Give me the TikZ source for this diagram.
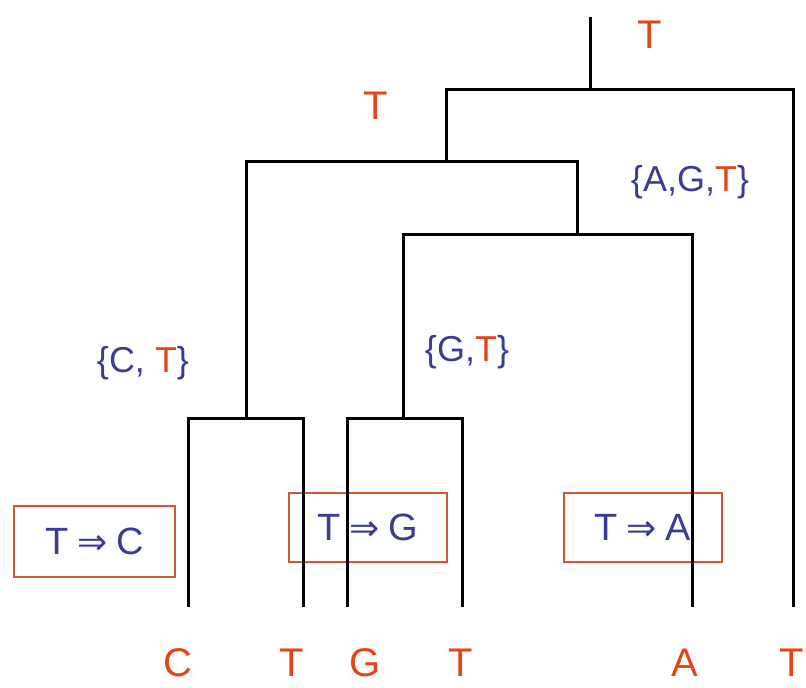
\documentclass[tikz,border=0pt]{standalone}
\usepackage{fontspec}
\setmainfont{Liberation Sans}
\newfontfamily\arrowfont{DejaVu Sans}
\definecolor{tblue}{RGB}{60,60,150}
\definecolor{tred}{RGB}{228,68,22}
\definecolor{tbox}{RGB}{205,90,50}
\newcommand{\impl}{{\arrowfont\fontsize{36}{40}\selectfont ⇒}}
\begin{document}
\begin{tikzpicture}[x=1pt,y=-1pt,
  branch/.style={line width=3pt,black},
  base/.style={font=\fontsize{40}{44}\selectfont,tred,inner sep=0pt},
  setlab/.style={font=\fontsize{36}{40}\selectfont,tblue,inner sep=0pt},
  mutbox/.style={draw=tbox,line width=2pt,font=\fontsize{38}{42}\selectfont,text=tblue,inner sep=0pt},
]
\useasboundingbox (0,0) rectangle (806,688);
% tree points
\coordinate (root) at (590,17);
\coordinate (n0) at (590,89);
\coordinate (n1) at (446,161);
\coordinate (n2) at (246,418);
\coordinate (n3) at (577,234);
\coordinate (n4) at (403,418);
\coordinate (lC) at (188,607);
\coordinate (lT1) at (303,607);
\coordinate (lG) at (347,607);
\coordinate (lT2) at (462,607);
\coordinate (lA) at (692,607);
\coordinate (lT3) at (793,607);
% mutation boxes (drawn first so branches overlay)
\node[mutbox,minimum width=161pt,minimum height=71pt] (bC) at (94.5,541.5) {T\hspace{9pt}\impl\hspace{9pt}C};
\node[mutbox,minimum width=158pt,minimum height=69pt] (bG) at (368,527) {T\hspace{9pt}\impl\hspace{9pt}G};
\node[mutbox,minimum width=158pt,minimum height=69pt] (bA) at (642.5,527) {T\hspace{9pt}\impl\hspace{9pt}A};
% branches
\draw[branch] (root) -- (n0);
\draw[branch] (n1) |- (n0) -| (lT3);
\draw[branch] (n2) |- (n1) -| (n3);
\draw[branch] (lC) |- (n2) -| (lT1);
\draw[branch] (n4) |- (n3) -| (lA);
\draw[branch] (lG) |- (n4) -| (lT2);
% leaf labels
\node[base] (tC) at (178,663) {C};
\node[base] (tT1) at (292,663) {T};
\node[base] (tG) at (365,663) {G};
\node[base] (tT2) at (461,663) {T};
\node[base] (tA) at (685,663) {A};
\node[base] (tT3) at (792,663) {T};
% internal labels
\node[base] (rootlab) at (650,35) {T};
\node[base] (n1lab) at (376,106) {T};
\node[setlab] (s3) at (690,182) {\{A,G,\textcolor{tred}{T}\}};
\node[setlab] (s2) at (143,363) {\{C, \textcolor{tred}{T}\}};
\node[setlab] (s4) at (467,352) {\{G,\textcolor{tred}{T}\}};
\end{tikzpicture}
\end{document}
